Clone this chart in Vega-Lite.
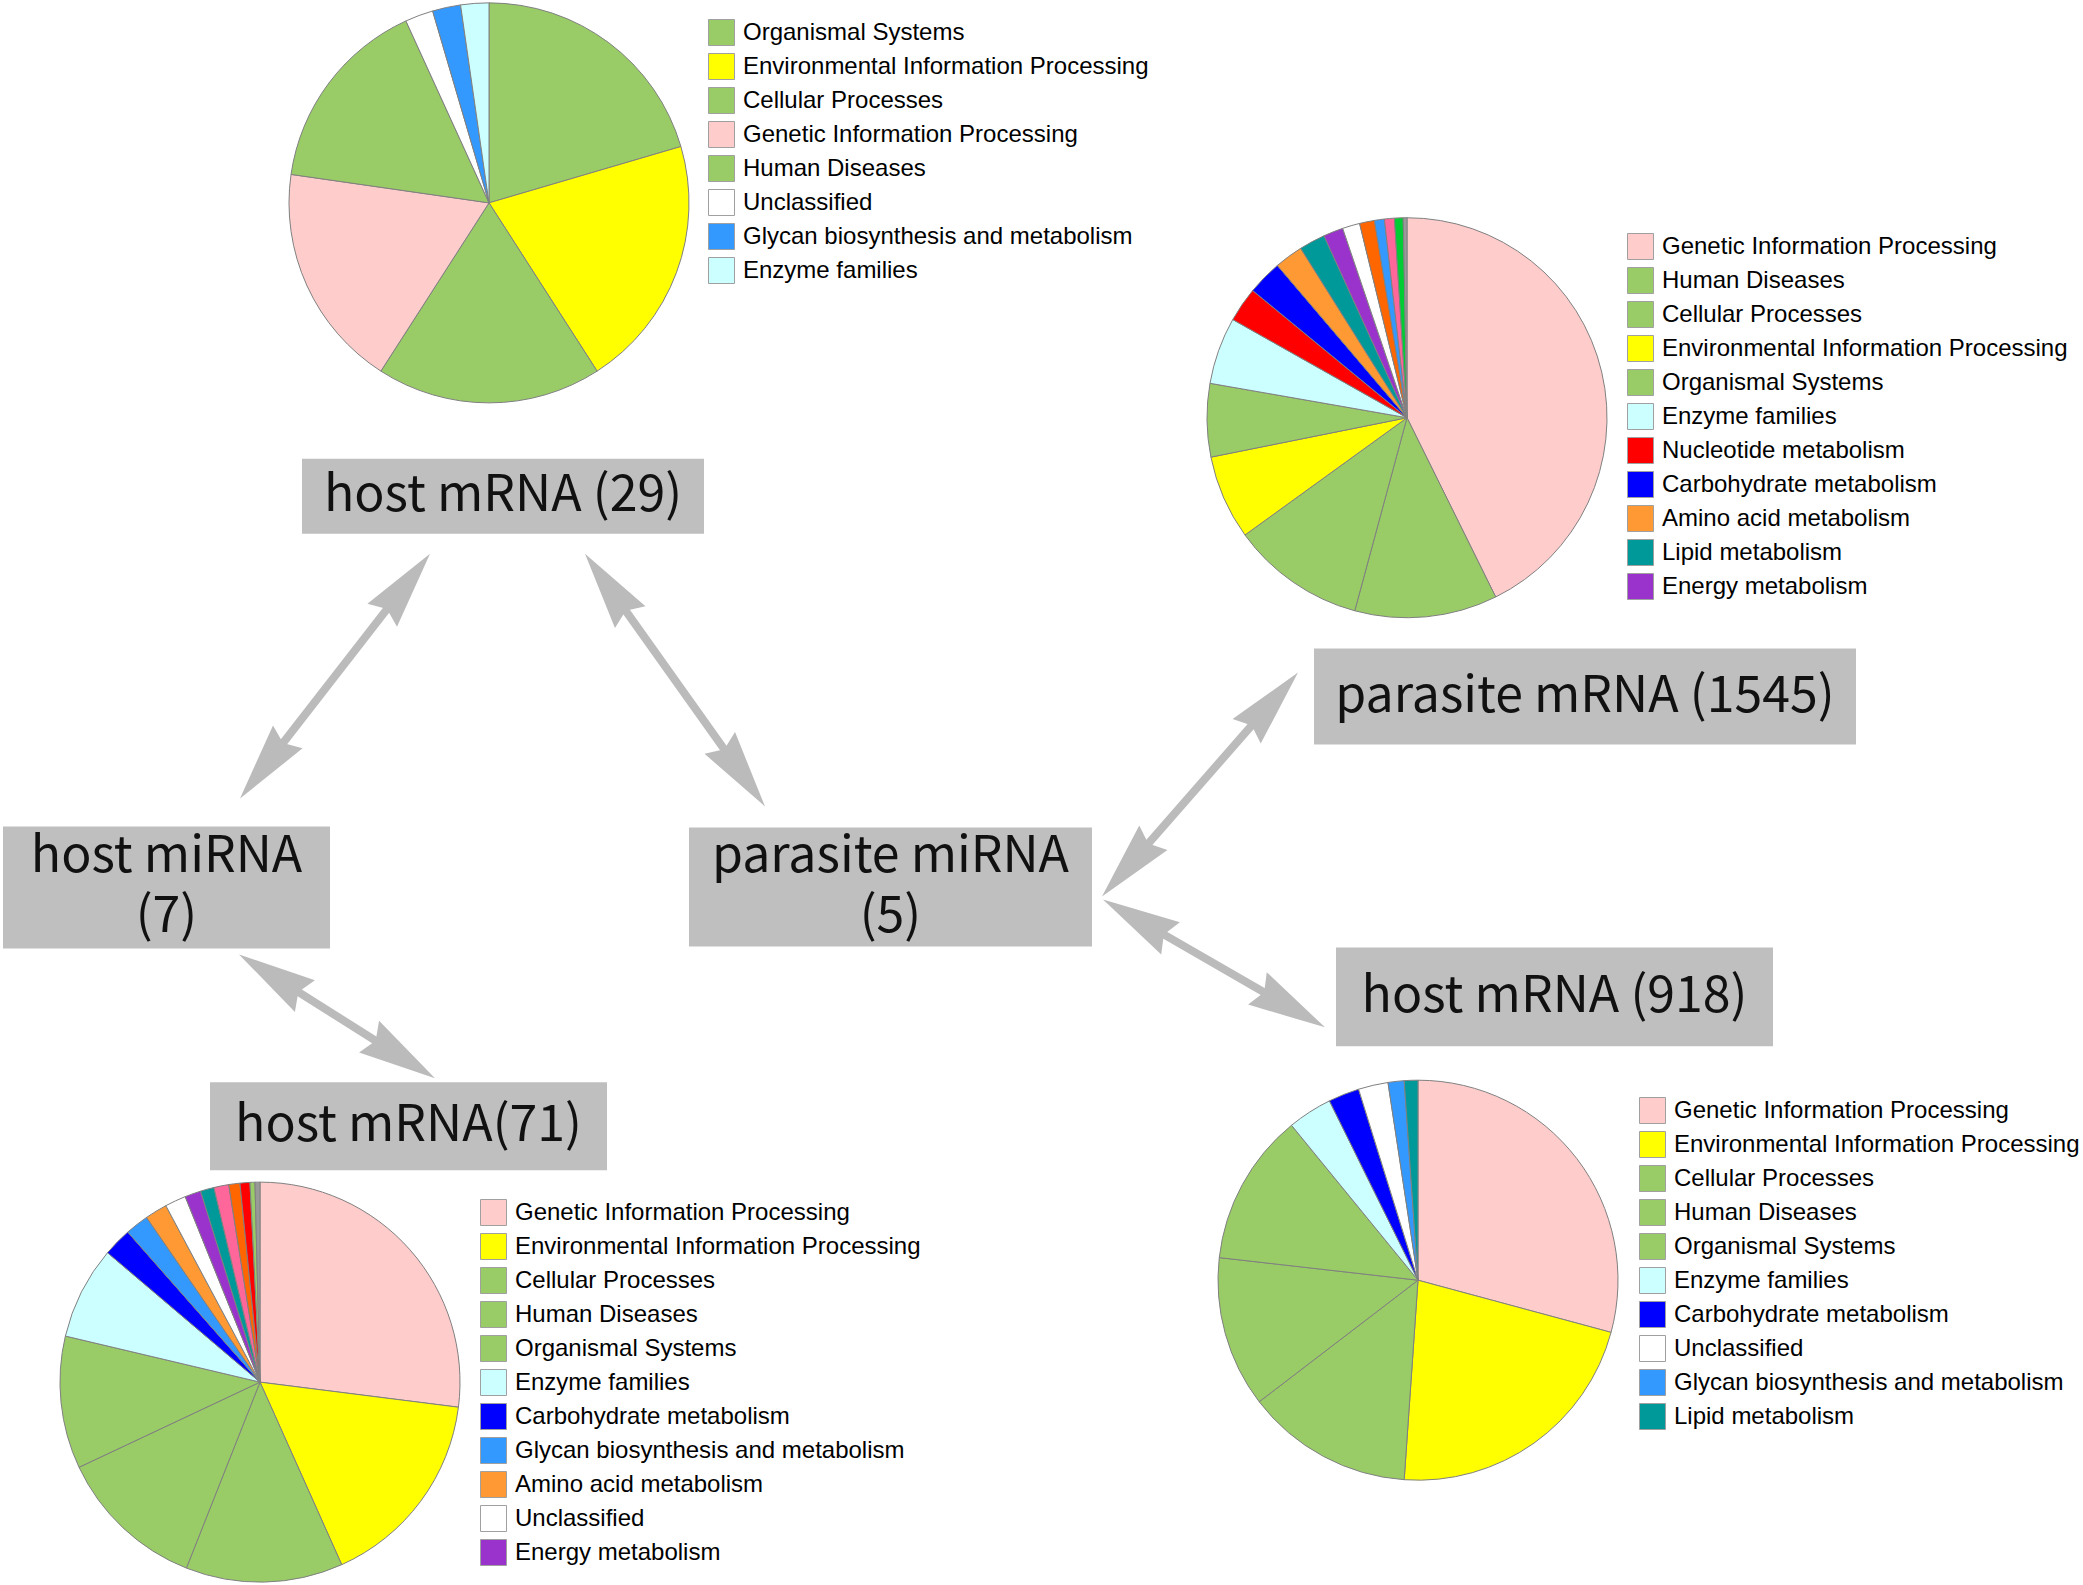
{
  "$schema": "https://vega.github.io/schema/vega-lite/v6.json",
  "width": 2083,
  "height": 1585,
  "autosize": {"type": "fit", "contains": "padding"},
  "padding": 0,
  "background": "white",
  "config": {
    "view": {"stroke": null},
    "legend": {
      "orient": "none",
      "title": null,
      "padding": 0,
      "symbolType": "square",
      "symbolSize": 676,
      "symbolStrokeColor": "#a0a0a0",
      "symbolStrokeWidth": 1,
      "symbolOpacity": 1,
      "labelFont": "Liberation Sans",
      "labelFontSize": 24,
      "labelColor": "#000000",
      "labelLimit": 1000,
      "labelOffset": 8,
      "rowPadding": 3
    }
  },
  "datasets": {
    "centers": [
      {"pie": "p29", "cx": 489, "cy": 202},
      {"pie": "p1545", "cx": 1407, "cy": 417},
      {"pie": "p71", "cx": 260, "cy": 1382},
      {"pie": "p918", "cx": 1418, "cy": 1280}
    ],
    "pies": [
      {"pie": "p29", "rank": 1, "category": "Organismal Systems", "genes": 9},
      {"pie": "p29", "rank": 2, "category": "Environmental Information Processing", "genes": 9},
      {"pie": "p29", "rank": 3, "category": "Cellular Processes", "genes": 8},
      {"pie": "p29", "rank": 4, "category": "Genetic Information Processing", "genes": 8},
      {"pie": "p29", "rank": 5, "category": "Human Diseases", "genes": 7},
      {"pie": "p29", "rank": 6, "category": "Unclassified", "genes": 1},
      {"pie": "p29", "rank": 7, "category": "Glycan biosynthesis and metabolism", "genes": 1},
      {"pie": "p29", "rank": 8, "category": "Enzyme families", "genes": 1},

      {"pie": "p1545", "rank": 1, "category": "Genetic Information Processing", "genes": 426},
      {"pie": "p1545", "rank": 2, "category": "Human Diseases", "genes": 115},
      {"pie": "p1545", "rank": 3, "category": "Cellular Processes", "genes": 108},
      {"pie": "p1545", "rank": 4, "category": "Environmental Information Processing", "genes": 68},
      {"pie": "p1545", "rank": 5, "category": "Organismal Systems", "genes": 59},
      {"pie": "p1545", "rank": 6, "category": "Enzyme families", "genes": 54},
      {"pie": "p1545", "rank": 7, "category": "Nucleotide metabolism", "genes": 28},
      {"pie": "p1545", "rank": 8, "category": "Carbohydrate metabolism", "genes": 28},
      {"pie": "p1545", "rank": 9, "category": "Amino acid metabolism", "genes": 23},
      {"pie": "p1545", "rank": 10, "category": "Lipid metabolism", "genes": 21},
      {"pie": "p1545", "rank": 11, "category": "Energy metabolism", "genes": 16},
      {"pie": "p1545", "rank": 12, "category": "Unclassified", "genes": 14},
      {"pie": "p1545", "rank": 13, "category": "Metabolism of cofactors and vitamins", "genes": 12},
      {"pie": "p1545", "rank": 14, "category": "Glycan biosynthesis and metabolism", "genes": 8},
      {"pie": "p1545", "rank": 15, "category": "Metabolism of other amino acids", "genes": 8},
      {"pie": "p1545", "rank": 16, "category": "Metabolism of terpenoids and polyketides", "genes": 7},
      {"pie": "p1545", "rank": 17, "category": "Xenobiotics biodegradation and metabolism", "genes": 3},

      {"pie": "p71", "rank": 1, "category": "Genetic Information Processing", "genes": 270},
      {"pie": "p71", "rank": 2, "category": "Environmental Information Processing", "genes": 163},
      {"pie": "p71", "rank": 3, "category": "Cellular Processes", "genes": 127},
      {"pie": "p71", "rank": 4, "category": "Human Diseases", "genes": 120},
      {"pie": "p71", "rank": 5, "category": "Organismal Systems", "genes": 107},
      {"pie": "p71", "rank": 6, "category": "Enzyme families", "genes": 75},
      {"pie": "p71", "rank": 7, "category": "Carbohydrate metabolism", "genes": 23},
      {"pie": "p71", "rank": 8, "category": "Glycan biosynthesis and metabolism", "genes": 19},
      {"pie": "p71", "rank": 9, "category": "Amino acid metabolism", "genes": 18},
      {"pie": "p71", "rank": 10, "category": "Unclassified", "genes": 17},
      {"pie": "p71", "rank": 11, "category": "Energy metabolism", "genes": 13},
      {"pie": "p71", "rank": 12, "category": "Lipid metabolism", "genes": 11},
      {"pie": "p71", "rank": 13, "category": "Metabolism of other amino acids", "genes": 12},
      {"pie": "p71", "rank": 14, "category": "Metabolism of cofactors and vitamins", "genes": 9},
      {"pie": "p71", "rank": 15, "category": "Nucleotide metabolism", "genes": 8},
      {"pie": "p71", "rank": 16, "category": "Metabolism of terpenoids and polyketides", "genes": 4},
      {"pie": "p71", "rank": 17, "category": "Xenobiotics biodegradation and metabolism", "genes": 4},

      {"pie": "p918", "rank": 1, "category": "Genetic Information Processing", "genes": 292},
      {"pie": "p918", "rank": 2, "category": "Environmental Information Processing", "genes": 219},
      {"pie": "p918", "rank": 3, "category": "Cellular Processes", "genes": 135},
      {"pie": "p918", "rank": 4, "category": "Human Diseases", "genes": 122},
      {"pie": "p918", "rank": 5, "category": "Organismal Systems", "genes": 123},
      {"pie": "p918", "rank": 6, "category": "Enzyme families", "genes": 36},
      {"pie": "p918", "rank": 7, "category": "Carbohydrate metabolism", "genes": 25},
      {"pie": "p918", "rank": 8, "category": "Unclassified", "genes": 24},
      {"pie": "p918", "rank": 9, "category": "Glycan biosynthesis and metabolism", "genes": 13},
      {"pie": "p918", "rank": 10, "category": "Lipid metabolism", "genes": 11}
    ],
    "boxes": [
      {"label": "host mRNA (29)", "x": 302, "x2": 704, "y": 458, "y2": 533},
      {"label": "parasite mRNA (1545)", "x": 1314, "x2": 1856, "y": 648, "y2": 744},
      {"label": "host miRNA\n(7)", "x": 3, "x2": 330, "y": 826, "y2": 948},
      {"label": "parasite miRNA\n(5)", "x": 689, "x2": 1092, "y": 827, "y2": 946},
      {"label": "host mRNA (918)", "x": 1336, "x2": 1773, "y": 947, "y2": 1046},
      {"label": "host mRNA(71)", "x": 210, "x2": 607, "y": 1082, "y2": 1170}
    ],
    "arrows": [
      {"from": "host mRNA (29)", "to": "host miRNA (7)", "x1": 430, "y1": 553, "x2": 240, "y2": 798},
      {"from": "host mRNA (29)", "to": "parasite miRNA (5)", "x1": 585, "y1": 553, "x2": 765, "y2": 806},
      {"from": "parasite mRNA (1545)", "to": "parasite miRNA (5)", "x1": 1298, "y1": 672, "x2": 1102, "y2": 896},
      {"from": "parasite miRNA (5)", "to": "host mRNA (918)", "x1": 1103, "y1": 899, "x2": 1325, "y2": 1027},
      {"from": "host miRNA (7)", "to": "host mRNA(71)", "x1": 239, "y1": 954, "x2": 435, "y2": 1078}
    ]
  },
  "resolve": {
    "scale": {"color": "independent", "theta": "independent"},
    "legend": {"color": "independent"}
  },
  "layer": [
    {
      "data": {"name": "arrows"},
      "transform": [
        {"calculate": "datum.x2 - datum.x1", "as": "dx"},
        {"calculate": "datum.y2 - datum.y1", "as": "dy"},
        {"calculate": "sqrt(datum.dx * datum.dx + datum.dy * datum.dy)", "as": "len"},
        {"calculate": "datum.x1 + datum.dx / datum.len * 55", "as": "rx1"},
        {"calculate": "datum.y1 + datum.dy / datum.len * 55", "as": "ry1"},
        {"calculate": "datum.x2 - datum.dx / datum.len * 55", "as": "rx2"},
        {"calculate": "datum.y2 - datum.dy / datum.len * 55", "as": "ry2"}
      ],
      "mark": {"type": "rule", "color": "#BBBBBB", "strokeWidth": 8, "strokeCap": "butt"},
      "encoding": {
        "x": {"field": "rx1", "type": "quantitative", "scale": {"domain": [0, 2083], "nice": false, "zero": false}, "axis": null},
        "y": {"field": "ry1", "type": "quantitative", "scale": {"domain": [0, 1585], "nice": false, "zero": false, "reverse": true}, "axis": null},
        "x2": {"field": "rx2"},
        "y2": {"field": "ry2"}
      }
    },
    {
      "data": {"name": "arrows"},
      "transform": [
        {"calculate": "datum.x2 - datum.x1", "as": "dx"},
        {"calculate": "datum.y2 - datum.y1", "as": "dy"},
        {"calculate": "atan2(datum.dx, -datum.dy) * 180 / PI", "as": "ang"}
      ],
      "mark": {"type": "point", "shape": "M0,0L0.24,1L0,0.9L-0.24,1Z", "filled": true, "opacity": 1, "color": "#BBBBBB", "size": 24336, "strokeWidth": 0},
      "encoding": {
        "x": {"field": "x2", "type": "quantitative", "scale": {"domain": [0, 2083], "nice": false, "zero": false}, "axis": null},
        "y": {"field": "y2", "type": "quantitative", "scale": {"domain": [0, 1585], "nice": false, "zero": false, "reverse": true}, "axis": null},
        "angle": {"field": "ang", "type": "quantitative", "scale": null}
      }
    },
    {
      "data": {"name": "arrows"},
      "transform": [
        {"calculate": "datum.x1 - datum.x2", "as": "dx"},
        {"calculate": "datum.y1 - datum.y2", "as": "dy"},
        {"calculate": "atan2(datum.dx, -datum.dy) * 180 / PI", "as": "ang"}
      ],
      "mark": {"type": "point", "shape": "M0,0L0.24,1L0,0.9L-0.24,1Z", "filled": true, "opacity": 1, "color": "#BBBBBB", "size": 24336, "strokeWidth": 0},
      "encoding": {
        "x": {"field": "x1", "type": "quantitative", "scale": {"domain": [0, 2083], "nice": false, "zero": false}, "axis": null},
        "y": {"field": "y1", "type": "quantitative", "scale": {"domain": [0, 1585], "nice": false, "zero": false, "reverse": true}, "axis": null},
        "angle": {"field": "ang", "type": "quantitative", "scale": null}
      }
    },
    {
      "data": {"name": "boxes"},
      "mark": {"type": "rect", "color": "#BFBFBF"},
      "encoding": {
        "x": {"field": "x", "type": "quantitative", "scale": {"domain": [0, 2083], "nice": false, "zero": false}, "axis": null},
        "y": {"field": "y", "type": "quantitative", "scale": {"domain": [0, 1585], "nice": false, "zero": false, "reverse": true}, "axis": null},
        "x2": {"field": "x2"},
        "y2": {"field": "y2"}
      }
    },
    {
      "data": {"name": "boxes"},
      "transform": [
        {"calculate": "(datum.x + datum.x2) / 2", "as": "tx"},
        {"calculate": "(datum.y + datum.y2) / 2 - (length(split(datum.label, '\\n')) - 1) * 30", "as": "ty"}
      ],
      "mark": {"type": "text", "font": "Noto Sans CJK SC", "fontSize": 50, "color": "#111111", "align": "center", "baseline": "middle", "lineBreak": "\n", "lineHeight": 60},
      "encoding": {
        "x": {"field": "tx", "type": "quantitative", "scale": {"domain": [0, 2083], "nice": false, "zero": false}, "axis": null},
        "y": {"field": "ty", "type": "quantitative", "scale": {"domain": [0, 1585], "nice": false, "zero": false, "reverse": true}, "axis": null},
        "text": {"field": "label"}
      }
    },
    {
      "data": {"name": "pies"},
      "transform": [
        {"filter": "datum.pie === 'p29'"},
        {"lookup": "pie", "from": {"data": {"name": "centers"}, "key": "pie", "fields": ["cx", "cy"]}}
      ],
      "mark": {"type": "arc", "outerRadius": 200, "stroke": "#808080", "strokeWidth": 1},
      "encoding": {
        "theta": {"field": "genes", "type": "quantitative", "stack": true},
        "order": {"field": "rank", "type": "quantitative"},
        "x": {"field": "cx", "type": "quantitative", "scale": {"domain": [0, 2083], "nice": false, "zero": false}, "axis": null},
        "y": {"field": "cy", "type": "quantitative", "scale": {"domain": [0, 1585], "nice": false, "zero": false, "reverse": true}, "axis": null},
        "color": {
          "field": "category", "type": "nominal",
          "scale": {
            "domain": ["Organismal Systems", "Environmental Information Processing", "Cellular Processes", "Genetic Information Processing", "Human Diseases", "Unclassified", "Glycan biosynthesis and metabolism", "Enzyme families"],
            "range": ["#99CC66", "#FFFF00", "#99CC66", "#FFCCCC", "#99CC66", "#FFFFFF", "#3399FF", "#CCFFFF"]
          },
          "legend": {"legendX": 708, "legendY": 18}
        }
      }
    },
    {
      "data": {"name": "pies"},
      "transform": [
        {"filter": "datum.pie === 'p1545'"},
        {"lookup": "pie", "from": {"data": {"name": "centers"}, "key": "pie", "fields": ["cx", "cy"]}}
      ],
      "mark": {"type": "arc", "outerRadius": 200, "stroke": "#808080", "strokeWidth": 1},
      "encoding": {
        "theta": {"field": "genes", "type": "quantitative", "stack": true},
        "order": {"field": "rank", "type": "quantitative"},
        "x": {"field": "cx", "type": "quantitative", "scale": {"domain": [0, 2083], "nice": false, "zero": false}, "axis": null},
        "y": {"field": "cy", "type": "quantitative", "scale": {"domain": [0, 1585], "nice": false, "zero": false, "reverse": true}, "axis": null},
        "color": {
          "field": "category", "type": "nominal",
          "scale": {
            "domain": ["Genetic Information Processing", "Human Diseases", "Cellular Processes", "Environmental Information Processing", "Organismal Systems", "Enzyme families", "Nucleotide metabolism", "Carbohydrate metabolism", "Amino acid metabolism", "Lipid metabolism", "Energy metabolism", "Unclassified", "Metabolism of cofactors and vitamins", "Glycan biosynthesis and metabolism", "Metabolism of other amino acids", "Metabolism of terpenoids and polyketides", "Xenobiotics biodegradation and metabolism"],
            "range": ["#FFCCCC", "#99CC66", "#99CC66", "#FFFF00", "#99CC66", "#CCFFFF", "#FF0000", "#0000FF", "#FF9933", "#009999", "#9933CC", "#FFFFFF", "#FF6600", "#3399FF", "#FF6699", "#00CC33", "#999999"]
          },
          "legend": {
            "legendX": 1627, "legendY": 232,
            "values": ["Genetic Information Processing", "Human Diseases", "Cellular Processes", "Environmental Information Processing", "Organismal Systems", "Enzyme families", "Nucleotide metabolism", "Carbohydrate metabolism", "Amino acid metabolism", "Lipid metabolism", "Energy metabolism"]
          }
        }
      }
    },
    {
      "data": {"name": "pies"},
      "transform": [
        {"filter": "datum.pie === 'p71'"},
        {"lookup": "pie", "from": {"data": {"name": "centers"}, "key": "pie", "fields": ["cx", "cy"]}}
      ],
      "mark": {"type": "arc", "outerRadius": 200, "stroke": "#808080", "strokeWidth": 1},
      "encoding": {
        "theta": {"field": "genes", "type": "quantitative", "stack": true},
        "order": {"field": "rank", "type": "quantitative"},
        "x": {"field": "cx", "type": "quantitative", "scale": {"domain": [0, 2083], "nice": false, "zero": false}, "axis": null},
        "y": {"field": "cy", "type": "quantitative", "scale": {"domain": [0, 1585], "nice": false, "zero": false, "reverse": true}, "axis": null},
        "color": {
          "field": "category", "type": "nominal",
          "scale": {
            "domain": ["Genetic Information Processing", "Environmental Information Processing", "Cellular Processes", "Human Diseases", "Organismal Systems", "Enzyme families", "Carbohydrate metabolism", "Glycan biosynthesis and metabolism", "Amino acid metabolism", "Unclassified", "Energy metabolism", "Lipid metabolism", "Metabolism of other amino acids", "Metabolism of cofactors and vitamins", "Nucleotide metabolism", "Metabolism of terpenoids and polyketides", "Xenobiotics biodegradation and metabolism"],
            "range": ["#FFCCCC", "#FFFF00", "#99CC66", "#99CC66", "#99CC66", "#CCFFFF", "#0000FF", "#3399FF", "#FF9933", "#FFFFFF", "#9933CC", "#009999", "#FF6699", "#FF6600", "#FF0000", "#99CC66", "#999999"]
          },
          "legend": {
            "legendX": 480, "legendY": 1198,
            "values": ["Genetic Information Processing", "Environmental Information Processing", "Cellular Processes", "Human Diseases", "Organismal Systems", "Enzyme families", "Carbohydrate metabolism", "Glycan biosynthesis and metabolism", "Amino acid metabolism", "Unclassified", "Energy metabolism"]
          }
        }
      }
    },
    {
      "data": {"name": "pies"},
      "transform": [
        {"filter": "datum.pie === 'p918'"},
        {"lookup": "pie", "from": {"data": {"name": "centers"}, "key": "pie", "fields": ["cx", "cy"]}}
      ],
      "mark": {"type": "arc", "outerRadius": 200, "stroke": "#808080", "strokeWidth": 1},
      "encoding": {
        "theta": {"field": "genes", "type": "quantitative", "stack": true},
        "order": {"field": "rank", "type": "quantitative"},
        "x": {"field": "cx", "type": "quantitative", "scale": {"domain": [0, 2083], "nice": false, "zero": false}, "axis": null},
        "y": {"field": "cy", "type": "quantitative", "scale": {"domain": [0, 1585], "nice": false, "zero": false, "reverse": true}, "axis": null},
        "color": {
          "field": "category", "type": "nominal",
          "scale": {
            "domain": ["Genetic Information Processing", "Environmental Information Processing", "Cellular Processes", "Human Diseases", "Organismal Systems", "Enzyme families", "Carbohydrate metabolism", "Unclassified", "Glycan biosynthesis and metabolism", "Lipid metabolism"],
            "range": ["#FFCCCC", "#FFFF00", "#99CC66", "#99CC66", "#99CC66", "#CCFFFF", "#0000FF", "#FFFFFF", "#3399FF", "#009999"]
          },
          "legend": {"legendX": 1639, "legendY": 1096}
        }
      }
    }
  ]
}
